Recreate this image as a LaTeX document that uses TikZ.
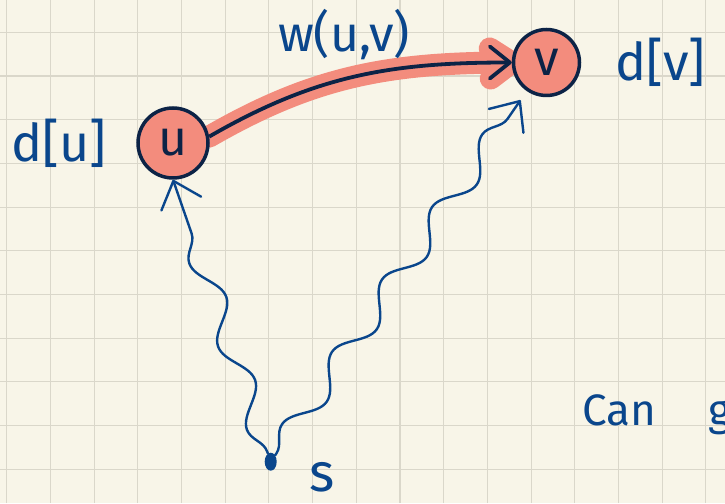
\documentclass[tikz,border=0pt]{standalone}
\usepackage{fontspec}
\setmainfont{Fira Sans}
\usetikzlibrary{positioning, arrows.meta, decorations.pathmorphing, shapes.geometric, backgrounds}

\definecolor{paper}{HTML}{F8F5E8}
\definecolor{gridgray}{HTML}{DAD7CA}
\definecolor{inkblue}{HTML}{0A468C}
\definecolor{inknavy}{HTML}{0C2346}
\definecolor{marker}{HTML}{F38C7D}

\begin{document}
\begin{tikzpicture}[
    x=1pt, y=1pt,
    vertex/.style={circle, draw=inknavy, line width=3.5pt, fill=marker,
                   inner sep=0pt, text=inknavy,
                   font=\fontsize{50}{50}\selectfont},
    hand/.style={text=inkblue, inner sep=0pt,
                 font=\fontsize{44}{50}\selectfont},
    big/.style={font=\fontsize{52}{56}\selectfont},
    edge/.style={inknavy, line width=3.8pt,
                 -{Straight Barb[length=20pt, width=32pt, round]}},
    hilite/.style={marker, line width=22pt, line cap=round, line join=round},
    wavy/.style={inkblue, line width=2.4pt, line cap=round,
                 decorate, decoration={snake, amplitude=12pt,
                 segment length=88pt, pre length=2pt, post length=26pt},
                 -{Straight Barb[length=24pt, width=42pt, round]}}
]
\useasboundingbox (0,0) rectangle (725,503);
% squared paper
\begin{scope}[on background layer]
\fill[paper] (0,0) rectangle (725,503);
\foreach \i in {0,...,16}
    \draw[gridgray, line width=1.1pt] ({6.7+43.7*\i},0) -- ++(0,503);
\foreach \j in {0,...,10}
    \draw[gridgray, line width=1.1pt] (0,{33.7+43.7*\j}) -- ++(725,0);
\end{scope}

\node[vertex, minimum size=70pt] (u) at (173,360) {u};
\node[vertex, minimum size=66pt] (v) at (546.5,440.5) {v};
\node[ellipse, fill=inkblue, minimum width=12pt, minimum height=18pt,
      inner sep=0pt] (s) at (270.7,41.3) {};

\node[hand, big, left=30pt of u] (du) {d[u]};
\node[hand, big, right=34pt of v] (dv) {d[v]};
\node[hand, font=\fontsize{50}{54}\selectfont] (w) at (344,468) {w(u,v)};
\node[hand, font=\fontsize{54}{56}\selectfont,
      below right=-6pt and 34pt of s] (sl) {s};
\node[hand, anchor=base] (can) at (619,77) {Can};
\node[hand, anchor=base west] (g) at (708,77) {g};

% relaxed edge, marked
\begin{scope}[on background layer]
\draw[hilite] (u.10) to[out=30, in=180] (v.west);
\draw[hilite] (v.west) ++(-22,14) -- (v.west) -- ++(-21,-16);
\end{scope}
\draw[edge] (u.10) to[out=30, in=180] (v.west);

% shortest paths from s
\draw[wavy] (s) -- (u.south);
\draw[wavy, shorten >=11pt] (s) -- (v);
\end{tikzpicture}
\end{document}
